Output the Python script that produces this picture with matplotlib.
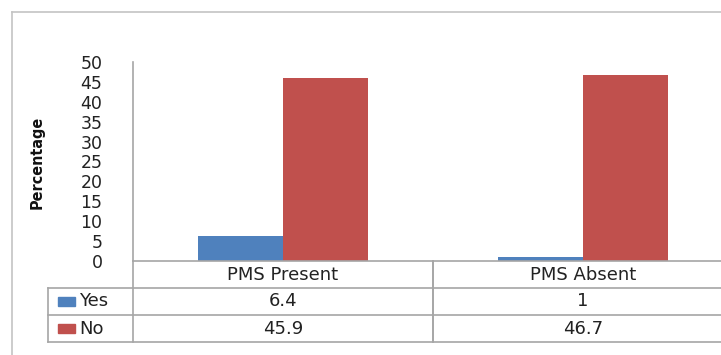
import matplotlib
matplotlib.use("Agg")
import matplotlib.pyplot as plt
from matplotlib.patches import Rectangle
import numpy as np

categories = ["PMS Present", "PMS Absent"]
series_names = ["Yes", "No"]
yes_values = [6.4, 1]
no_values = [45.9, 46.7]
yes_labels = ["6.4", "1"]
no_labels = ["45.9", "46.7"]
yticks = list(range(0, 51, 5))
colors = ["#4F81BD", "#C0504D"]

W, H = 721, 355
fig = plt.figure(figsize=(W / 100, H / 100), dpi=100)

def px(x0, y0, x1, y1):
    return [x0 / W, 1 - y1 / H, (x1 - x0) / W, (y1 - y0) / H]

# outer chart frame
fig.add_artist(plt.Line2D([12 / W, 1], [1 - 12 / H, 1 - 12 / H], color="#c4c4c4", lw=1.2))
fig.add_artist(plt.Line2D([12 / W, 12 / W], [0, 1 - 12 / H], color="#c4c4c4", lw=1.2))

# main plot area (extends past right edge of the image, like the crop)
ax = fig.add_axes(px(133, 62, 733, 261))
ax.set_xlim(0, 2)
ax.set_ylim(0, 50)
x = np.arange(len(categories)) + 0.5
bw = 0.283
ax.bar(x - bw / 2, yes_values, bw, color=colors[0], edgecolor="none")
ax.bar(x + bw / 2, no_values, bw, color=colors[1], edgecolor="none")
for s in ["top", "right"]:
    ax.spines[s].set_visible(False)
for s in ["left", "bottom"]:
    ax.spines[s].set_color("#a6a6a6")
    ax.spines[s].set_linewidth(1.2)
ax.set_xticks([])
ax.set_yticks(yticks)
ax.set_yticklabels([str(t) for t in yticks], fontsize=12.5, color="#222222")
ax.tick_params(axis="y", length=0, pad=22)

fig.text(37 / W, 1 - 162 / H, "Percentage", rotation=90, ha="center", va="center",
         fontsize=11.5, fontweight="bold", fontstretch="condensed",
         family=["DejaVu Sans"], color="#111111")

# data table below the plot
tx0 = -85 / 300
tab = fig.add_axes(px(48, 261, 733, 342))
tab.set_xlim(tx0, 2)
tab.set_ylim(0, 3)
tab.axis("off")
lc, lw = "#a6a6a6", 1.2
for yy in [0, 1, 2]:
    tab.plot([tx0, 2], [yy, yy], color=lc, lw=lw, clip_on=False)
tab.plot([tx0, tx0], [0, 2], color=lc, lw=lw, clip_on=False)
for xx in range(len(categories)):
    tab.plot([xx, xx], [0, 3], color=lc, lw=lw, clip_on=False)
    tab.plot([xx + 1, xx + 1], [0, 3], color=lc, lw=lw, clip_on=False)

fs = 13
for i, cat in enumerate(categories):
    tab.text(x[i], 2.5, cat, ha="center", va="center", fontsize=fs, color="#222222")
    tab.text(x[i], 1.5, yes_labels[i], ha="center", va="center", fontsize=fs, color="#222222")
    tab.text(x[i], 0.5, no_labels[i], ha="center", va="center", fontsize=fs, color="#222222")

for r, (name, c) in enumerate(zip(series_names, colors)):
    yc = 1.5 - r
    tab.add_patch(Rectangle((tx0 + 10 / 300, yc - 0.15), 17 / 300, 0.3, color=c, clip_on=False))
    tab.text(tx0 + 31 / 300, yc, name, ha="left", va="center", fontsize=fs, color="#222222")

fig.savefig("out.png", dpi=100)
